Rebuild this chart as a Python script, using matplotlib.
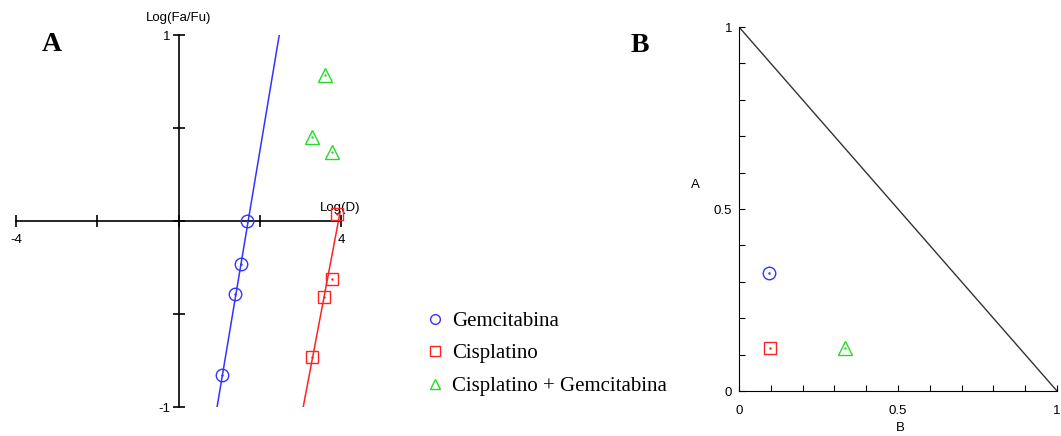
import matplotlib
matplotlib.use("Agg")
import matplotlib.pyplot as plt
from matplotlib.lines import Line2D

plt.rcParams['font.family'] = ['Liberation Sans', 'DejaVu Sans']

# panel A: median effect plot, log(D) vs log(Fa/Fu)
gem_logd = [1.69, 1.54, 1.39, 1.07]
gem_logf = [0.0, -0.23, -0.39, -0.83]
gem_fit_x = [0.95, 2.48]
gem_fit_y = [-1.0, 1.0]

cis_logd = [3.90, 3.78, 3.59, 3.29]
cis_logf = [0.04, -0.31, -0.41, -0.73]
cis_fit_x = [3.07, 3.98]
cis_fit_y = [-1.0, 0.05]

comb_logd = [3.61, 3.29, 3.78]
comb_logf = [0.785, 0.45, 0.37]

# panel B: isobologram
iso_b = [0.094, 0.097, 0.333]
iso_a = [0.325, 0.118, 0.118]
iso_marks = ['o', 's', '^']

labels = ['Gemcitabina', 'Cisplatino', 'Cisplatino + Gemcitabina']
colors = ['#3333ff', '#ff2222', '#22dd22']

W, H = 1061, 436
fig = plt.figure(figsize=(W / 100, H / 100), dpi=100)


def px_axes(x0, y0, x1, y1):
    # pixel box (left, top, right, bottom) -> figure axes
    return fig.add_axes([x0 / W, 1 - y1 / H, (x1 - x0) / W, (y1 - y0) / H])


def open_marker(ax, x, y, m, c, ms=9):
    ax.plot(x, y, linestyle='none', marker=m, ms=ms, mfc='none', mec=c,
            mew=1.0, clip_on=False, zorder=5)
    ax.plot(x, y, linestyle='none', marker='.', ms=1.5, color=c,
            clip_on=False, zorder=5)


# ---- panel A
ax = px_axes(16, 35, 341, 407)
ax.set_xlim(-4, 4)
ax.set_ylim(-1, 1)
for s in ['top', 'right']:
    ax.spines[s].set_visible(False)
ax.spines['left'].set_position(('data', 0))
ax.spines['bottom'].set_position(('data', 0))
for s in ['left', 'bottom']:
    ax.spines[s].set_linewidth(1.2)
ax.set_xticks([-4, -2, 0, 2, 4])
ax.set_xticklabels(['-4', '', '', '', '4'])
ax.set_yticks([-1, -0.5, 0, 0.5, 1])
ax.set_yticklabels(['-1', '', '', '', '1'])
ax.tick_params(direction='inout', length=8, width=1.2, labelsize=9.5, pad=2)
ax.tick_params(axis='x', pad=5)

ax.plot(gem_fit_x, gem_fit_y, color=colors[0], lw=1.1)
ax.plot(cis_fit_x, cis_fit_y, color=colors[1], lw=1.1)
open_marker(ax, gem_logd, gem_logf, 'o', colors[0], ms=9)
open_marker(ax, cis_logd, cis_logf, 's', colors[1], ms=9)
open_marker(ax, comb_logd, comb_logf, '^', colors[2], ms=10)

ax.text(0, 1.06, 'Log(Fa/Fu)', ha='center', va='bottom', fontsize=9.5)
ax.text(3.98, 0.04, 'Log(D)', ha='center', va='bottom', fontsize=9.5)
fig.text(52 / W, 1 - 44 / H, 'A', fontsize=20, fontweight='bold',
         family='Liberation Serif', ha='center', va='center')

# ---- panel B
bx = px_axes(739, 27, 1057, 391)
bx.set_xlim(0, 1)
bx.set_ylim(0, 1)
for s in ['top', 'right']:
    bx.spines[s].set_visible(False)
bx.set_xticks([i / 10 for i in range(11)])
bx.set_xticklabels(['0', '', '', '', '', '0.5', '', '', '', '', '1'])
bx.set_yticks([i / 10 for i in range(11)])
bx.set_yticklabels(['0', '', '', '', '', '0.5', '', '', '', '', '1'])
bx.tick_params(direction='in', length=4, labelsize=9.5)
bx.tick_params(axis='x', pad=10)
bx.tick_params(axis='y', pad=5)
bx.plot([0, 1], [1, 0], color='#333333', lw=1.0)
for b, a, m, c in zip(iso_b, iso_a, iso_marks, colors):
    open_marker(bx, [b], [a], m, c, ms=9 if m != '^' else 10)
bx.text(-0.138, 0.566, 'A', ha='center', va='center', fontsize=9.5)
bx.text(0.506, -0.103, 'B', ha='center', va='center', fontsize=9.5)
fig.text(640 / W, 1 - 45 / H, 'B', fontsize=20, fontweight='bold',
         family='Liberation Serif', ha='center', va='center')

# ---- legend
handles = [Line2D([], [], linestyle='none', marker=m, ms=7, mfc='none',
                  mec=c, mew=1.0) for m, c in zip(iso_marks, colors)]
fig.legend(handles, labels, loc='upper left',
           bbox_to_anchor=(420 / W, 1 - 303 / H), frameon=False,
           prop={'family': 'Liberation Serif', 'size': 15},
           handlelength=0.6, handletextpad=0.55, labelspacing=0.62,
           borderaxespad=0)

fig.savefig('out.png', dpi=100)
